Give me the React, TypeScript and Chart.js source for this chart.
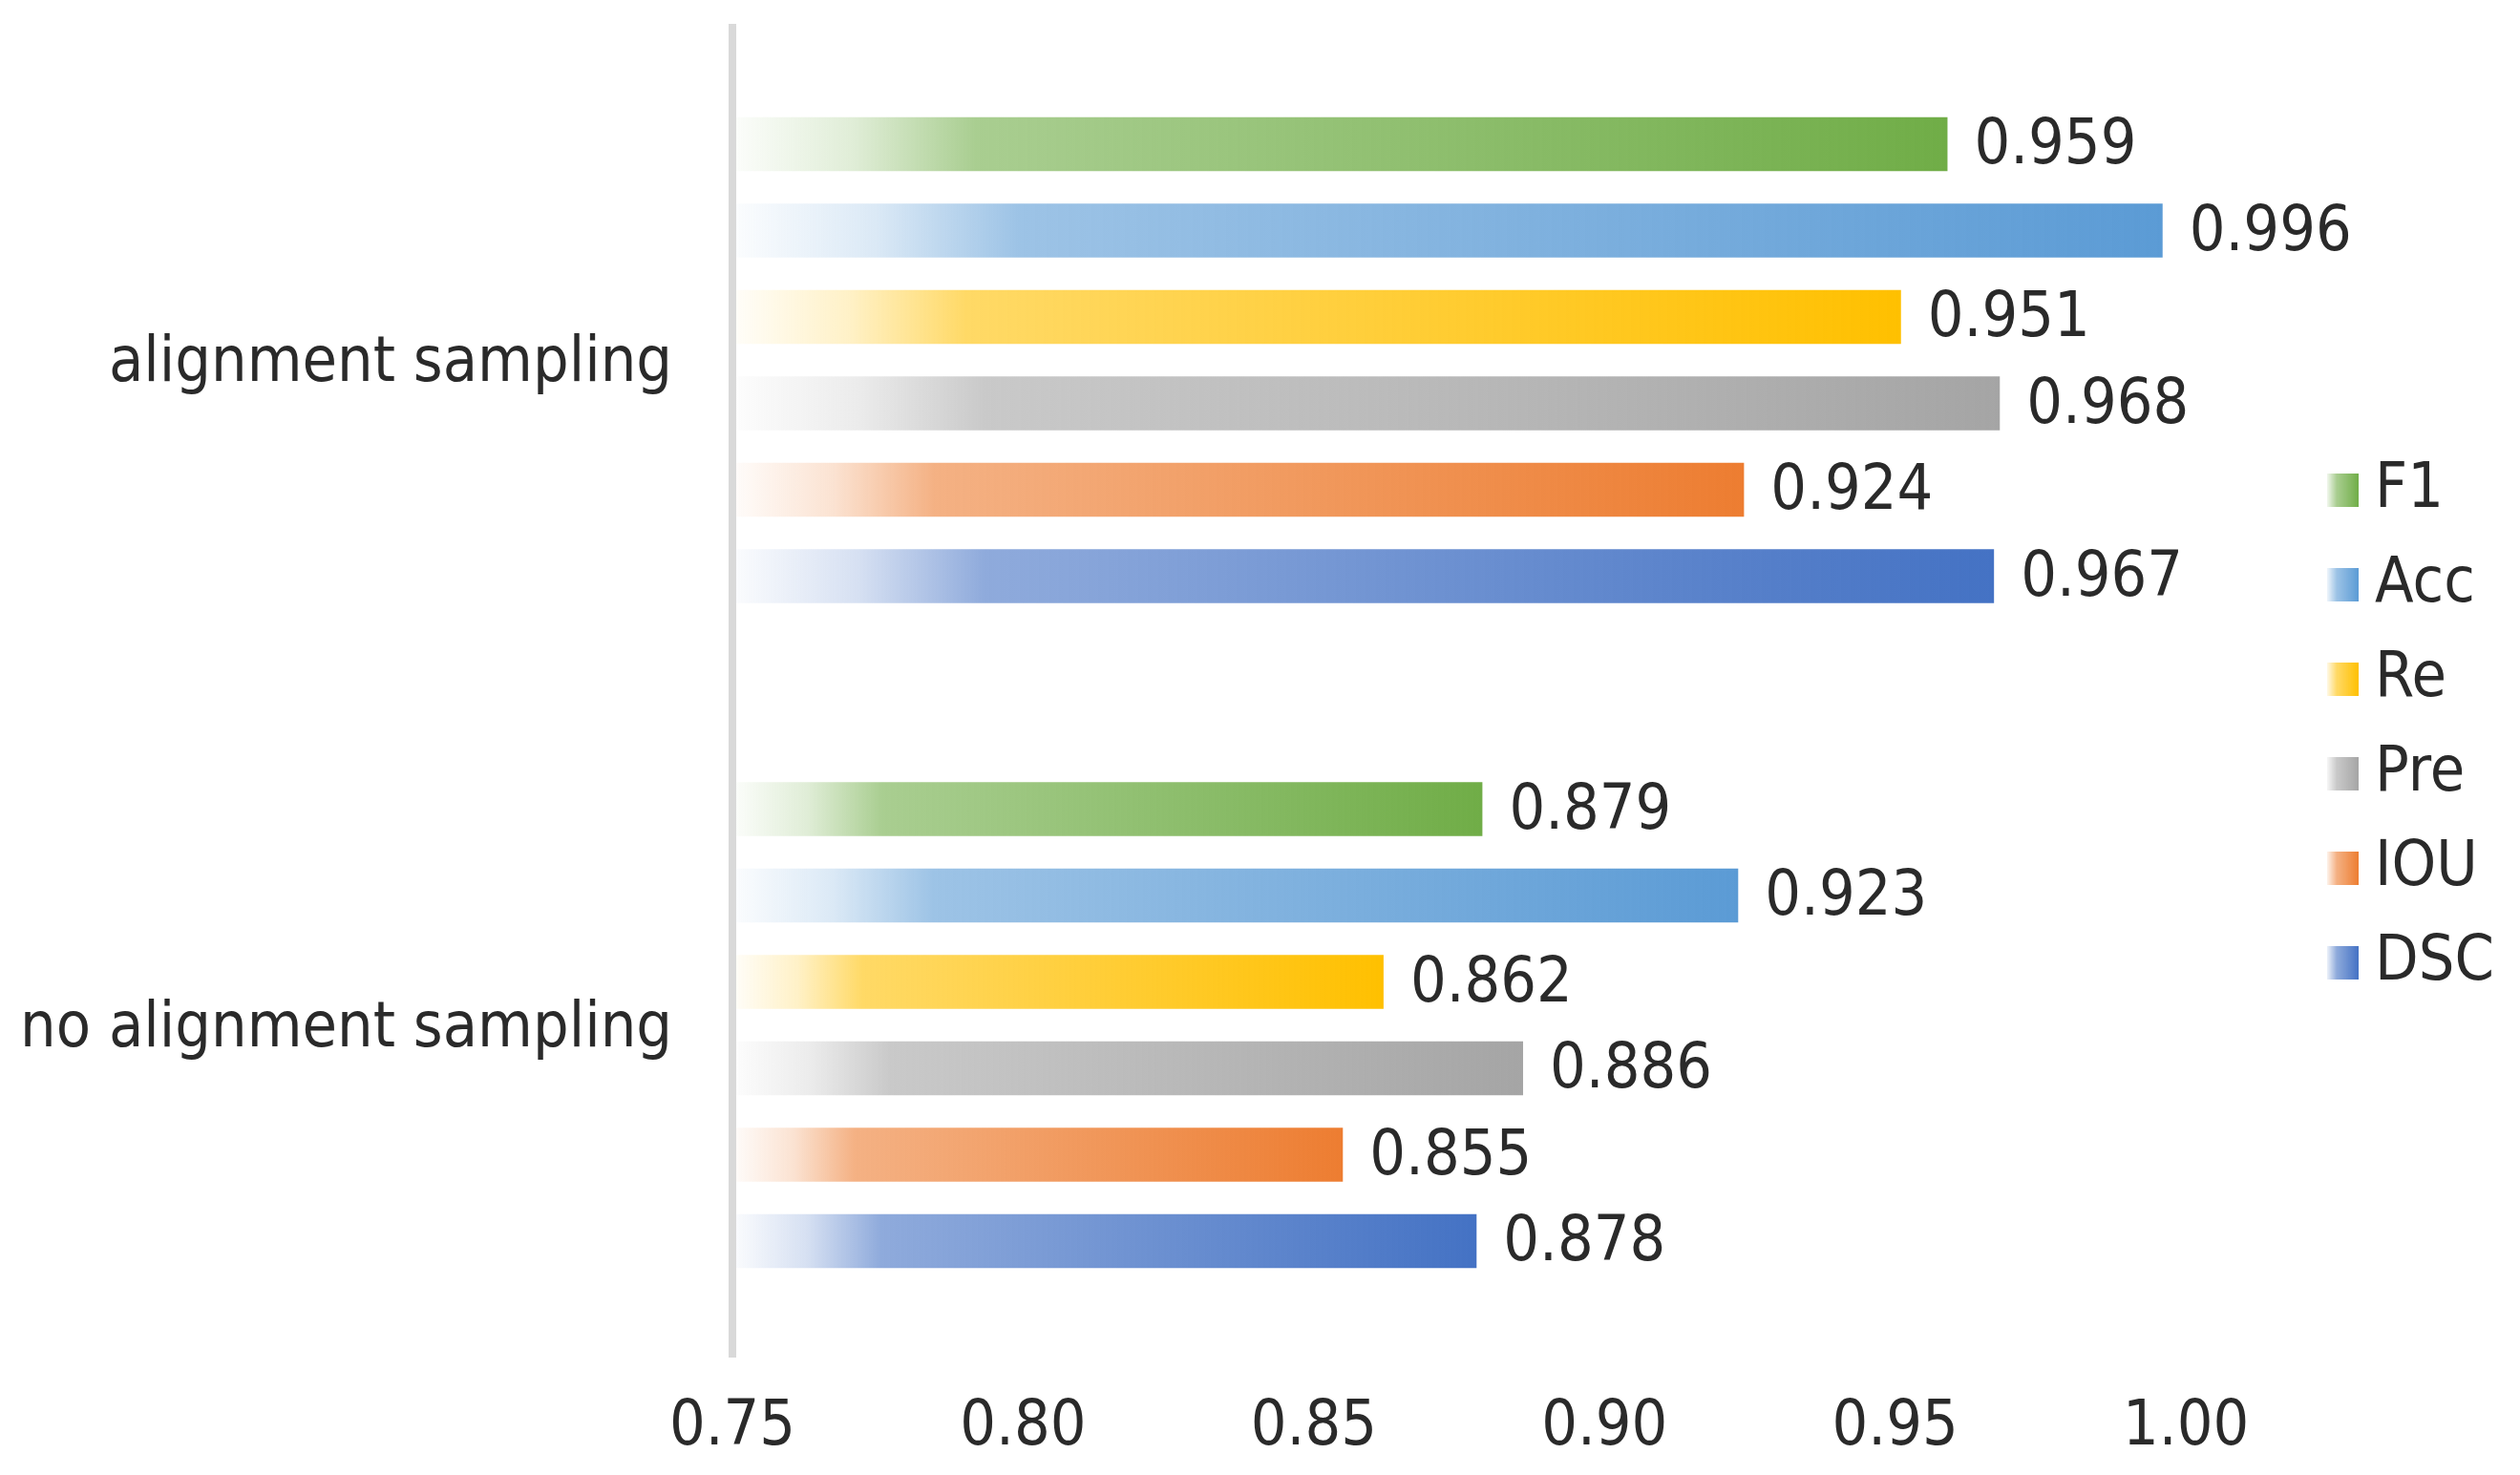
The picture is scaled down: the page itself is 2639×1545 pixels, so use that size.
import { useEffect, useRef } from 'react';
import { Chart, registerables } from 'chart.js';

Chart.register(...registerables);

const categories = ['alignment sampling', 'no alignment sampling'];
const seriesNames = ['F1', 'Acc', 'Re', 'Pre', 'IOU', 'DSC'];
const f1Values = [0.959, 0.879];
const accValues = [0.996, 0.923];
const reValues = [0.951, 0.862];
const preValues = [0.968, 0.886];
const iouValues = [0.924, 0.855];
const dscValues = [0.967, 0.878];
const seriesColors = ['#70AD47', '#5B9BD5', '#FFC000', '#A5A5A5', '#ED7D31', '#4472C4'];
const axisMin = 0.75;
const axisMax = 1.0;
const axisStep = 0.05;

const FONT = "'DejaVu Sans Condensed', 'DejaVu Sans', sans-serif";
const TEXT = '#2a2a2a';
const FONT_SIZE = 66;

function rgba(hex: string, a: number) {
  const h = hex.replace('#', '');
  const r = parseInt(h.slice(0, 2), 16);
  const g = parseInt(h.slice(2, 4), 16);
  const b = parseInt(h.slice(4, 6), 16);
  return `rgba(${r},${g},${b},${a})`;
}

function barGradient(color: string) {
  return (ctx: any) => {
    const chart = ctx.chart;
    if (ctx.type !== 'data' || !chart.chartArea || !chart.scales.x) return color;
    const xs = chart.scales.x;
    const x0 = xs.getPixelForValue(axisMin);
    const x1 = xs.getPixelForValue(ctx.raw);
    if (!isFinite(x0) || !isFinite(x1) || x1 - x0 < 2) return color;
    const g = chart.ctx.createLinearGradient(x0, 0, x1, 0);
    g.addColorStop(0, rgba(color, 0.02));
    g.addColorStop(0.1, rgba(color, 0.22));
    g.addColorStop(0.2, rgba(color, 0.6));
    g.addColorStop(1, rgba(color, 1));
    return g;
  };
}

function legendSwatch(color: string) {
  const c = document.createElement('canvas');
  c.width = 33;
  c.height = 35;
  const g = c.getContext('2d')!;
  const gr = g.createLinearGradient(0, 0, 33, 0);
  gr.addColorStop(0, rgba(color, 0.1));
  gr.addColorStop(0.3, rgba(color, 0.6));
  gr.addColorStop(1, rgba(color, 1));
  g.fillStyle = gr;
  g.fillRect(0, 0, 33, 35);
  return c;
}

const valueLabels = {
  id: 'valueLabels',
  afterDatasetsDraw(chart: any) {
    const { ctx } = chart;
    ctx.save();
    ctx.font = `${FONT_SIZE}px ${FONT}`;
    ctx.fillStyle = TEXT;
    ctx.textAlign = 'left';
    ctx.textBaseline = 'middle';
    chart.data.datasets.forEach((ds: any, di: number) => {
      const meta = chart.getDatasetMeta(di);
      meta.data.forEach((bar: any, i: number) => {
        const v = ds.data[i];
        ctx.fillText(Number(v).toFixed(3), bar.x + 28, bar.y + 3);
      });
    });
    ctx.restore();
  },
};

export default function App() {
  const ref = useRef<HTMLCanvasElement | null>(null);

  useEffect(() => {
    document.body.style.margin = '0';
    document.body.style.overflow = 'hidden';
    const seriesData = [f1Values, accValues, reValues, preValues, iouValues, dscValues];
    const swatches = seriesColors.map((c) => legendSwatch(c));
    const chart = new Chart(ref.current!, {
      type: 'bar',
      data: {
        labels: categories,
        datasets: seriesNames.map((name, i) => ({
          label: name,
          data: seriesData[i],
          backgroundColor: barGradient(seriesColors[i]),
          borderWidth: 0,
          categoryPercentage: 0.78,
          barPercentage: 0.624,
        })),
      },
      options: {
        indexAxis: 'y',
        animation: false,
        responsive: true,
        maintainAspectRatio: false,
        devicePixelRatio: 1,
        layout: { padding: { top: 29, bottom: 0, left: 0, right: 17 } },
        scales: {
          x: {
            type: 'linear',
            min: axisMin,
            max: axisMax,
            grid: { display: false, drawTicks: true, tickLength: 25 },
            border: { display: false },
            ticks: {
              stepSize: axisStep,
              padding: 0,
              color: TEXT,
              font: { family: FONT, size: FONT_SIZE, lineHeight: 1.485 },
              callback: (v: any) => Number(v).toFixed(2),
            },
          },
          y: {
            type: 'category',
            grid: { display: false, drawTicks: true, tickLength: 63 },
            border: { display: true, color: '#d9d9d9', width: 8, z: 1 },
            ticks: {
              padding: 0,
              color: TEXT,
              font: { family: FONT, size: FONT_SIZE, lineHeight: 0.15 },
              callback: function (this: any, v: any) {
                return ['', this.getLabelForValue(v)];
              },
            },
            afterFit: (s: any) => {
              s.width = 767;
            },
          },
          gap: {
            type: 'linear',
            position: 'right',
            display: true,
            grid: { display: false, drawTicks: false },
            border: { display: false },
            ticks: { display: false },
            afterFit: (s: any) => {
              s.width = 131;
            },
          },
        },
        plugins: {
          tooltip: { enabled: false },
          legend: {
            display: true,
            position: 'right',
            align: 'center',
            fullSize: false,
            title: {
              display: true,
              text: ' ',
              font: { size: 10, lineHeight: 1.2 },
              padding: { top: 30, bottom: 30 },
            },
            labels: {
              usePointStyle: true,
              pointStyleWidth: 1,
              boxWidth: 33,
              boxHeight: 33,
              padding: 33,
              color: TEXT,
              font: { family: FONT, size: FONT_SIZE, lineHeight: 1.2 },
              generateLabels: () =>
                seriesNames.map((name, i) => ({
                  text: name,
                  pointStyle: swatches[i],
                  fillStyle: seriesColors[i],
                  strokeStyle: 'rgba(0,0,0,0)',
                  lineWidth: 0,
                  hidden: false,
                  datasetIndex: i,
                  fontColor: TEXT,
                })),
            },
          },
        },
      },
      plugins: [valueLabels],
    } as any);
    return () => chart.destroy();
  }, []);

  return (
    <div style={{ width: '2639px', height: '1545px', position: 'relative', background: '#ffffff' }}>
      <canvas ref={ref} />
    </div>
  );
}
